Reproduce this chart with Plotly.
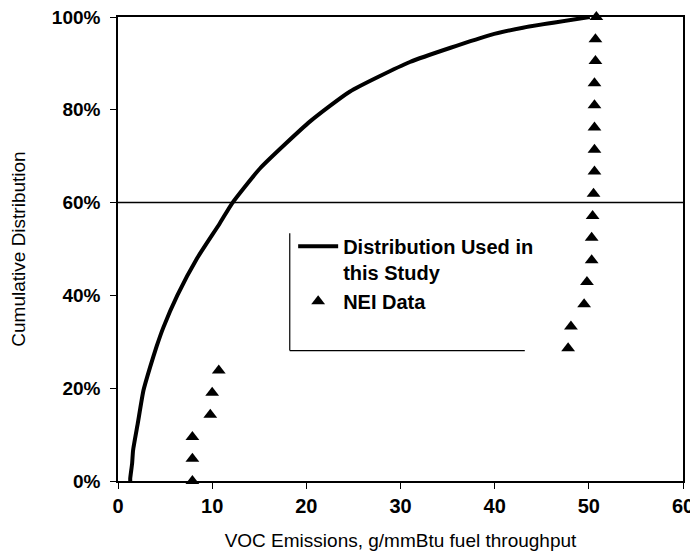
import plotly.graph_objects as go

# Distribution used in this study
dist_x = [1.3, 1.3, 1.5, 1.6, 2.1, 2.7, 3.4, 4.1, 4.8, 6.3, 8.4, 10.8, 12.1,
          15.1, 20.4, 24.6, 31.0, 39.5, 43.0, 50.1]
dist_y = [0.0, 0.006, 0.038, 0.066, 0.124, 0.195, 0.245, 0.29, 0.33, 0.40,
          0.48, 0.555, 0.598, 0.674, 0.775, 0.839, 0.903, 0.961, 0.977, 1.0]

# NEI data points
nei_x = [7.9, 7.9, 7.9, 9.8, 10.0, 10.7,
         47.8, 48.1, 49.5, 49.8, 50.3, 50.3, 50.4, 50.5, 50.6, 50.6,
         50.6, 50.6, 50.6, 50.7, 50.7, 50.8]
nei_y = [0.0, 0.048, 0.095, 0.143, 0.190, 0.238,
         0.286, 0.333, 0.381, 0.429, 0.476, 0.524, 0.571, 0.619, 0.667, 0.714,
         0.762, 0.810, 0.857, 0.905, 0.952, 1.0]

x_ticks = [0, 10, 20, 30, 40, 50, 60]
y_ticks = [0, 0.2, 0.4, 0.6, 0.8, 1.0]

FONT = "Liberation Sans, Arial, sans-serif"

fig = go.Figure()

fig.add_trace(go.Scatter(x=dist_x, y=dist_y, mode="lines",
                         name="Distribution Used in<br>this Study",
                         line=dict(color="black", width=4, shape="spline", smoothing=0.5),
                         cliponaxis=False))

fig.add_trace(go.Scatter(x=nei_x, y=nei_y, mode="markers", name="NEI Data",
                         marker=dict(symbol="triangle-up", size=12, color="black"),
                         cliponaxis=False))

# the single horizontal gridline at 60%
fig.add_shape(type="line", xref="paper", yref="y", x0=0, x1=1, y0=0.6, y1=0.6,
              line=dict(color="black", width=1.5), layer="below")

# legend frame: only left and bottom edges survived the scan
fig.add_shape(type="line", xref="paper", yref="paper", x0=0.304, x1=0.304, y0=0.281, y1=0.534,
              line=dict(color="black", width=1.2))
fig.add_shape(type="line", xref="paper", yref="paper", x0=0.304, x1=0.72, y0=0.281, y1=0.281,
              line=dict(color="black", width=1.2))

# page adds an 8px body margin, so the figure is 8px smaller and shifted
fig.update_layout(
    width=690, height=549,
    margin=dict(l=110, r=15, t=9, b=76),
    paper_bgcolor="white", plot_bgcolor="white",
    font=dict(family=FONT, size=19, color="black"),
    showlegend=True,
    legend=dict(x=0.31, y=0.548, xanchor="left", yanchor="top",
                bgcolor="rgba(0,0,0,0)", borderwidth=0,
                font=dict(size=20, color="black", weight="bold"), valign="top",
                itemwidth=40, tracegroupgap=7),
)

fig.update_xaxes(range=[0, 60], tickvals=x_ticks, showgrid=False, zeroline=False,
                 showline=True, mirror=True, linecolor="black", linewidth=1.5,
                 ticks="outside", ticklen=6, tickcolor="black", automargin=False,
                 ticklabeloverflow="allow",
                 tickfont=dict(size=20, family=FONT, weight="bold"),
                 title=dict(text="VOC Emissions, g/mmBtu fuel throughput",
                            font=dict(size=19), standoff=18))

fig.update_yaxes(range=[0, 1], tickvals=y_ticks, tickformat=".0%", showgrid=False,
                 zeroline=False, showline=True, mirror=True, linecolor="black",
                 linewidth=1.5, ticks="outside", ticklen=6, tickcolor="black",
                 automargin=False, ticklabelstandoff=6, ticklabeloverflow="allow",
                 tickfont=dict(size=19, family=FONT, weight="bold"),
                 title=dict(text="Cumulative Distribution", font=dict(size=19), standoff=30))

fig.write_html("out.html")
